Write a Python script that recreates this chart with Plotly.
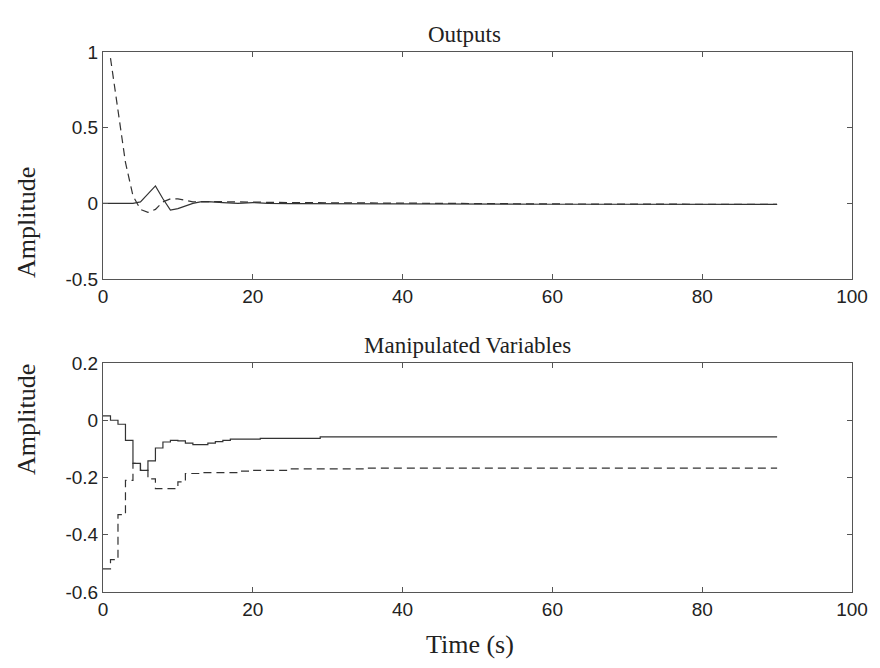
import plotly.graph_objects as go

# ---- Outputs (top panel) ----
y1_t = [0, 1, 2, 3, 4, 5, 6, 7, 8, 9, 10, 11, 12, 13, 14, 16, 18, 20, 22, 25, 30, 40, 60, 90]
y1_v = [0, 0, 0, 0, 0, 0.01, 0.06, 0.115, 0.03, -0.045, -0.035, -0.015, 0.0, 0.01, 0.012, 0.005, 0.0, 0.005, 0.0, -0.002, -0.003, -0.005, -0.006, -0.007]

y2_t = [1, 2, 3, 4, 5, 6, 7, 8, 9, 10, 11, 12, 14, 16, 20, 25, 30, 40, 60, 90]
y2_v = [0.96, 0.6, 0.27, 0.05, -0.04, -0.06, -0.04, 0.01, 0.03, 0.03, 0.02, 0.01, 0.012, 0.01, 0.008, 0.005, 0.004, 0.0, -0.004, -0.007]

# ---- Manipulated variables (bottom panel, staircase) ----
u1_t = [0, 1, 2, 3, 4, 5, 6, 7, 8, 9, 10, 11, 12, 14, 15, 16, 17, 21, 29, 90]
u1_v = [0.015, 0.0, -0.014, -0.07, -0.151, -0.175, -0.142, -0.097, -0.076, -0.07, -0.072, -0.08, -0.085, -0.08, -0.075, -0.07, -0.066, -0.063, -0.058, -0.058]

u2_t = [0, 1, 2, 3, 4, 5, 6, 7, 10, 11, 13, 18, 20, 25, 35, 90]
u2_v = [-0.519, -0.487, -0.33, -0.21, -0.151, -0.175, -0.205, -0.239, -0.215, -0.186, -0.183, -0.178, -0.175, -0.17, -0.167, -0.167]

x_ticks = [0, 20, 40, 60, 80, 100]
x_ticktext = ["0", "20", "40", "60", "80", "100"]
top_ticks = [-0.5, 0, 0.5, 1]
top_ticktext = ["-0.5", "0", "0.5", "1"]
bot_ticks = [-0.6, -0.4, -0.2, 0, 0.2]
bot_ticktext = ["-0.6", "-0.4", "-0.2", "0", "0.2"]

LINE = "#333333"
AX = "#555555"
SANS = "Liberation Sans, Arial, sans-serif"
SERIF = "Liberation Serif, Times New Roman, serif"

fig = go.Figure()
fig.add_trace(go.Scatter(x=y1_t, y=y1_v, mode="lines", line=dict(color=LINE, width=1.2),
                         xaxis="x", yaxis="y", showlegend=False))
fig.add_trace(go.Scatter(x=y2_t, y=y2_v, mode="lines", line=dict(color=LINE, width=1.2, dash="8px,5px"),
                         xaxis="x", yaxis="y", showlegend=False))
fig.add_trace(go.Scatter(x=u1_t, y=u1_v, mode="lines", line=dict(color=LINE, width=1.2, shape="hv"),
                         xaxis="x2", yaxis="y2", showlegend=False))
fig.add_trace(go.Scatter(x=u2_t, y=u2_v, mode="lines", line=dict(color=LINE, width=1.2, shape="hv", dash="8px,5px"),
                         xaxis="x2", yaxis="y2", showlegend=False))

axis_common = dict(showline=True, linecolor=AX, linewidth=1, mirror="ticks", ticks="inside",
                   ticklen=5, tickcolor=AX, showgrid=False, zeroline=False,
                   tickfont=dict(family=SANS, size=19, color="#222"))

# page body has an 8px margin, so the figure is 872x660 and offsets account for it
fig.update_layout(
    width=872, height=660,
    margin=dict(l=95, r=21, t=44, b=76),
    paper_bgcolor="white", plot_bgcolor="white",
    xaxis=dict(domain=[0, 1], range=[0, 100], tickvals=x_ticks, ticktext=x_ticktext, anchor="y", **axis_common),
    yaxis=dict(domain=[0.5796, 1], range=[-0.5, 1], tickvals=top_ticks, ticktext=top_ticktext, anchor="x", **axis_common),
    xaxis2=dict(domain=[0, 1], range=[0, 100], tickvals=x_ticks, ticktext=x_ticktext, anchor="y2", **axis_common),
    yaxis2=dict(domain=[0, 0.4241], range=[-0.6, 0.2], tickvals=bot_ticks, ticktext=bot_ticktext, anchor="x2", **axis_common),
)

ann = [
    dict(text="Outputs", x=0.483, y=1.0, xref="paper", yref="paper", yanchor="bottom", yshift=3,
         showarrow=False, font=dict(family=SERIF, size=23, color="#222")),
    dict(text="Manipulated Variables", x=0.487, y=0.4241, xref="paper", yref="paper", yanchor="bottom", yshift=3,
         showarrow=False, font=dict(family=SERIF, size=23, color="#222")),
    dict(text="Time (s)", x=0.49, y=0, xref="paper", yref="paper", yanchor="top", yshift=-36,
         showarrow=False, font=dict(family=SERIF, size=26, color="#222")),
    dict(text="Amplitude", x=0, y=0.7898, xref="paper", yref="paper", xanchor="center", xshift=-77,
         textangle=-90, showarrow=False, font=dict(family=SERIF, size=26, color="#222")),
    dict(text="Amplitude", x=0, y=0.212, xref="paper", yref="paper", xanchor="center", xshift=-77,
         textangle=-90, showarrow=False, font=dict(family=SERIF, size=26, color="#222")),
]
fig.update_layout(annotations=ann)

fig.write_html("out.html")
